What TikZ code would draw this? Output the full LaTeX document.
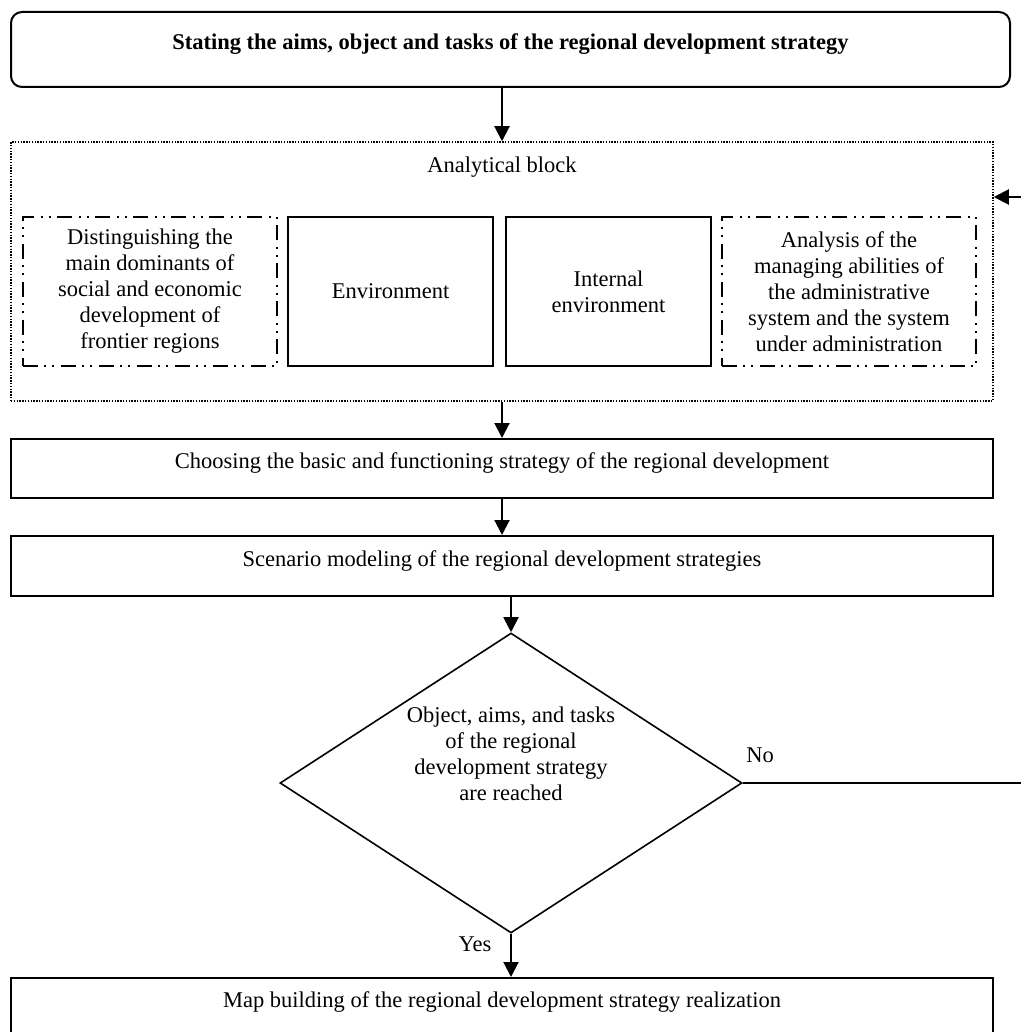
\documentclass[tikz,border=0pt]{standalone}
\usepackage{fontspec}
\setmainfont{Liberation Serif}
\usetikzlibrary{arrows.meta,shapes.geometric,calc}

\begin{document}
\begin{tikzpicture}[x=1pt,y=-1pt,
  every node/.style={font=\fontsize{22.5}{26}\selectfont},
  box/.style={draw,line width=2,rectangle,inner sep=0,
    text height=16,text depth=16},
  topbox/.style={box,rounded corners=11},
  inbox/.style={draw,line width=2,rectangle,inner sep=0,align=center},
  dddbox/.style={draw,line width=1.6,rectangle,inner sep=0,align=center,
    dash pattern=on 15 off 6 on 2 off 6 on 2 off 7},
  dotbox/.style={draw,line width=1.5,rectangle,inner sep=0,
    dash pattern=on 1.4 off 1.4},
  decision/.style={draw,line width=1.6,diamond,inner sep=0,aspect=1.54},
  arr/.style={line width=2,-{Triangle[length=15,width=15]}},
  link/.style={line width=2}
]
\useasboundingbox (0,0) rectangle (1020,1032);

% goal statement
\node[topbox,minimum width=999,minimum height=75] (aims) at (510.5,49.5)
  {\textbf{Stating the aims, object and tasks of the regional development strategy}};

% analytical block with its four parts
\node[dotbox,minimum width=982,minimum height=259] (ana) at (502,271.5) {};
\node (analabel) at (502,167) {Analytical block};
\node[dddbox,minimum width=254,minimum height=149] (dom) at (150,291.5)
  {Distinguishing the\\main dominants of\\social and economic\\development of\\frontier regions};
\node[inbox,minimum width=205,minimum height=149] (env) at (390.5,291.5)
  {Environment};
\node[inbox,minimum width=205,minimum height=149] (intenv) at (608.5,291.5)
  {Internal\\environment};
\node[dddbox,minimum width=254,minimum height=149] (abil) at (849,291.5)
  {Analysis of the\\managing abilities of\\the administrative\\system and the system\\under administration};

% strategy steps
\node[box,minimum width=982,minimum height=59] (choose) at (502,468.5)
  {Choosing the basic and functioning strategy of the regional development};
\node[box,minimum width=982,minimum height=60] (scen) at (502,566)
  {Scenario modeling of the regional development strategies};

% check of the result
\node[decision,minimum width=462,minimum height=300] (dia) at (511,783) {};
\node[align=center] (diatext) at (511,754)
  {Object, aims, and tasks\\of the regional\\development strategy\\are reached};
\node (no) at (760,755) {No};
\node (yes) at (475,944) {Yes};

\node[box,minimum width=982,minimum height=58] (map) at (502,1007)
  {Map building of the regional development strategy realization};

% connectors
\draw[arr] (aims.south -| ana.north) -- (ana.north);
\draw[arr] (ana.south) -- (choose.north);
\draw[arr] (choose.south) -- (scen.north);
\draw[arr] (scen.south -| dia.north) -- (dia.north);
\draw[arr] (dia.south) -- (dia.south |- map.north);

% return loop back into the analytical block
\path (ana.east) ++(0,-74.5) coordinate (fbin);
\coordinate (fbout) at (1045,783);
\draw[arr] (dia.east) -- (fbout) |- (fbin);
\end{tikzpicture}
\end{document}
